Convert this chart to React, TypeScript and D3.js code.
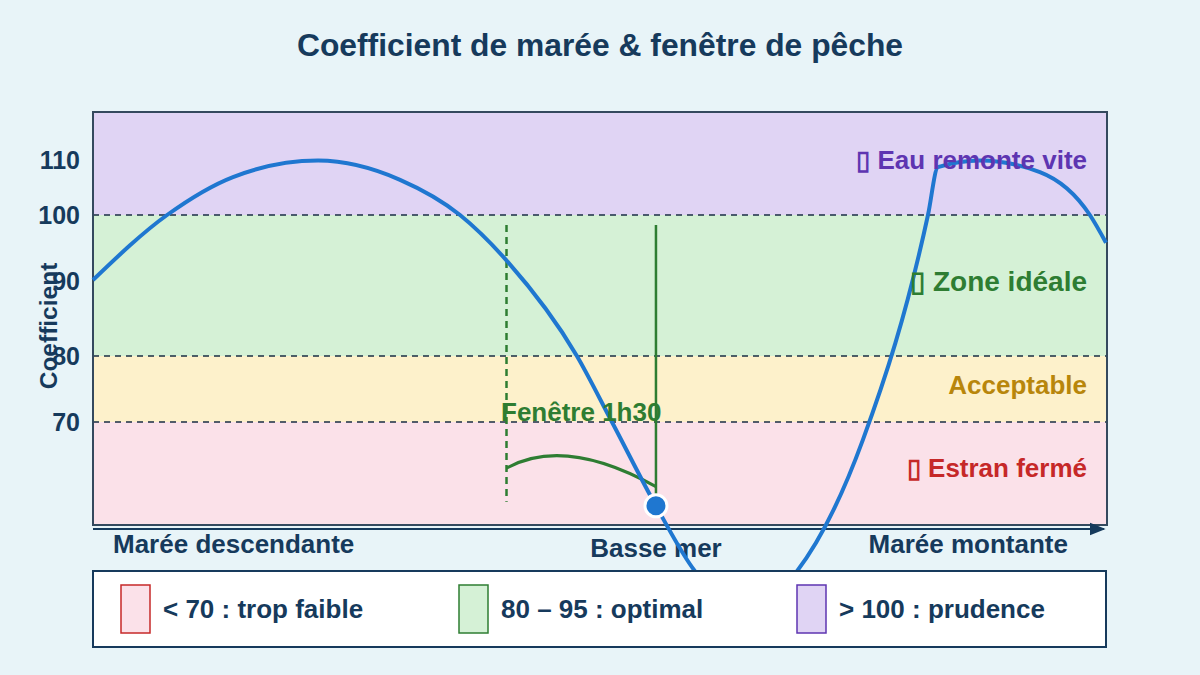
import React from "react";
import * as d3 from "d3";

// ---- Data ----
const timeMin = [-339, -294.4, -254.7, -203.5, -154.1, -118, -90.3, -47.6, -26.5, 0, 23.5, 53.6, 84.9, 124.6, 163.8, 169.8, 195, 231.2, 261.3, 271];
const coef = [90.15, 100, 106.9, 109.9, 106.4, 100, 93.2, 80, 70, 57.3, 47.4, 41.5, 47.4, 67.3, 100, 108.7, 109.9, 107.8, 100, 95.8];

const yTicks = [70, 80, 90, 100, 110];
const thresholds = [70, 80, 100];

const bandNames = ["low", "ok", "ideal", "high"];
const bandFrom = [null, 70, 80, 100];
const bandTo = [70, 80, 100, null];
const bandFills = ["#fbe1e9", "#fdf1cb", "#d5f1d6", "#e0d4f4"];

const zoneLabels = ["▯ Eau remonte vite", "▯ Zone idéale", "Acceptable", "▯ Estran fermé"];
const zoneValues = [110, 90, 75.6, 63];
const zoneColors = ["#5e35b1", "#2e7d32", "#b8860b", "#c62828"];
const zoneSizes = [26, 28, 26, 26];

const lowTide = 0;
const lowTideValue = 57.3;
const windowStart = -90;
const windowEnd = 0;
const windowTop = 98.5;
const windowBottom = 57.9;
const arcStart = 63;
const arcCtrl = [-55, 67.9];
const arcEnd = 60.2;
const windowLabel = "Fenêtre 1h30";

const xLabels = ["Marée descendante", "Basse mer", "Marée montante"];

const legendLabels = ["< 70 : trop faible", "80 – 95 : optimal", "> 100 : prudence"];
const legendFills = ["#fbe1e9", "#d5f1d6", "#e0d4f4"];
const legendStrokes = ["#c62828", "#2e7d32", "#5e35b1"];

// ---- Layout ----
const W = 1200, H = 675;
const L = 93, R = 1107, T = 112, B = 525;
const NAVY = "#163a5c";
const FONT = "'Liberation Sans', Arial, Helvetica, sans-serif";

export default function App() {
  const x = d3.scaleLinear().domain([-339, 271]).range([L, 1106]);
  const y = d3.scaleLinear().domain(yTicks).range([422, 356, 281, 215, 160]);

  const pts: [number, number][] = timeMin.map((t, i) => [t, coef[i]]);
  const line = d3.line<[number, number]>()
    .x(d => x(d[0]))
    .y(d => y(d[1]))
    .curve(d3.curveMonotoneX);

  const ax = x(windowStart), bx = x(windowEnd);
  const arcPath = `M${ax},${y(arcStart)} Q${x(arcCtrl[0])},${y(arcCtrl[1])} ${bx},${y(arcEnd)}`;

  const legendY = 571, legendH = 76;
  const legendX = [121, 459, 797];

  return (
    <svg width={W} height={H} style={{ position: "absolute", left: 0, top: 0, display: "block", fontFamily: FONT }}>
      <defs>
        <marker id="arr" viewBox="0 0 10 10" refX="9" refY="5" markerWidth="8" markerHeight="8" orient="auto">
          <path d="M0,1 L10,5 L0,9 Z" fill={NAVY} />
        </marker>
      </defs>
      <rect x={0} y={0} width={W} height={H} fill="#e8f4f8" />
      <text x={600} y={56} textAnchor="middle" fontSize={31.8} fontWeight="bold" fill={NAVY}>
        Coefficient de marée &amp; fenêtre de pêche
      </text>

      {/* bands */}
      {bandNames.map((n, i) => {
        const top = bandTo[i] == null ? T : y(bandTo[i] as number);
        const bot = bandFrom[i] == null ? B : y(bandFrom[i] as number);
        return <rect key={n} x={L} y={top} width={R - L} height={bot - top} fill={bandFills[i]} />;
      })}
      {thresholds.map(v => (
        <line key={v} x1={L} x2={R} y1={y(v)} y2={y(v)} stroke="#1a2e44" strokeWidth={1.5} strokeDasharray="6,5" />
      ))}
      <rect x={L} y={T} width={R - L} height={B - T} fill="none" stroke="#34495e" strokeWidth={2} />
      <line x1={L} x2={1104} y1={529} y2={529} stroke={NAVY} strokeWidth={2} markerEnd="url(#arr)" />

      {/* y ticks */}
      {yTicks.map(v => (
        <text key={v} x={80} y={y(v)} dy="0.35em" textAnchor="end" fontSize={25} fontWeight="bold" fill={NAVY}>{v}</text>
      ))}
      <text transform="translate(57,326) rotate(-90)" textAnchor="middle" fontSize={24.5} fontWeight="bold" fill={NAVY}>Coefficient</text>

      {/* x labels */}
      <text x={113} y={553} fontSize={26} fontWeight="bold" fill={NAVY}>{xLabels[0]}</text>
      <text x={x(lowTide)} y={557} textAnchor="middle" fontSize={26} fontWeight="bold" fill={NAVY}>{xLabels[1]}</text>
      <text x={1068} y={553} textAnchor="end" fontSize={26} fontWeight="bold" fill={NAVY}>{xLabels[2]}</text>

      {/* window annotation */}
      <line x1={ax} x2={ax} y1={y(windowTop)} y2={y(windowBottom)} stroke="#2e7d32" strokeWidth={2.5} strokeDasharray="7,5" />
      <line x1={bx} x2={bx} y1={y(windowTop)} y2={y(lowTideValue)} stroke="#2e7d32" strokeWidth={2.5} />
      <path d={arcPath} fill="none" stroke="#2e7d32" strokeWidth={3} />

      {/* curve */}
      <path d={line(pts) || ""} fill="none" stroke="#1f77d0" strokeWidth={4} />
      <text x={(ax + bx) / 2} y={421} textAnchor="middle" fontSize={26} fontWeight="bold" fill="#2e7d32">{windowLabel}</text>
      <circle cx={x(lowTide)} cy={y(lowTideValue)} r={11} fill="#1f77d0" stroke="#ffffff" strokeWidth={3} />

      {/* zone labels */}
      {zoneLabels.map((s, i) => (
        <text key={s} x={1087} y={y(zoneValues[i])} dy="0.35em" textAnchor="end" fontSize={zoneSizes[i]} fontWeight="bold" fill={zoneColors[i]}>{s}</text>
      ))}

      {/* legend */}
      <rect x={L} y={legendY} width={1106 - L} height={legendH} fill="#ffffff" stroke={NAVY} strokeWidth={2} />
      {legendLabels.map((s, i) => (
        <g key={s}>
          <rect x={legendX[i]} y={585} width={29} height={48} fill={legendFills[i]} stroke={legendStrokes[i]} strokeWidth={1.5} />
          <text x={legendX[i] + 42} y={609} dy="0.35em" fontSize={26} fontWeight="bold" fill={NAVY}>{s}</text>
        </g>
      ))}
    </svg>
  );
}
